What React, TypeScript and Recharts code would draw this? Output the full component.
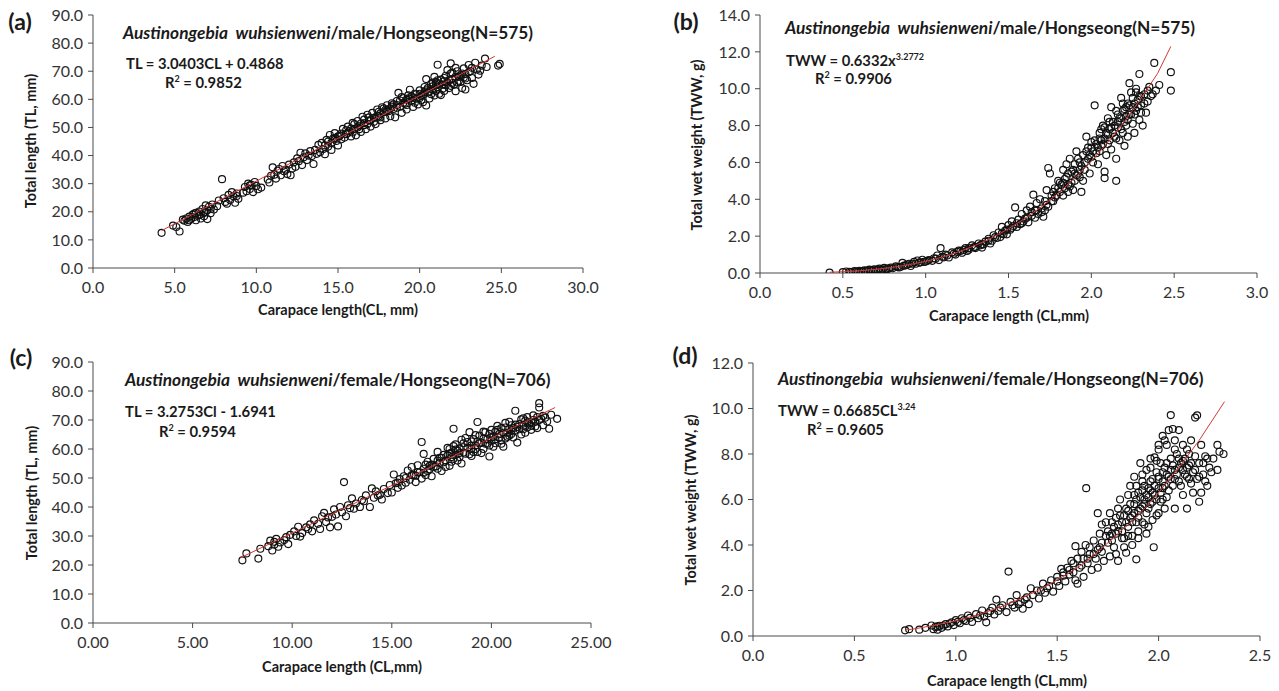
import React from 'react';
import { ScatterChart, Scatter, XAxis, YAxis } from 'recharts';

type Pt = [number, number];

const FONT = 'Lato, "Open Sans", sans-serif';

// ---------- Panel (a): male TL vs CL ----------
const aXTicks = [0, 5, 10, 15, 20, 25, 30];
const aYTicks = [0, 10, 20, 30, 40, 50, 60, 70, 80, 90];
const aPoints: Pt[] = [
  [4.2,12.5],[4.9,15.1],[5.1,14.6],[5.3,13.0],[5.5,17.2],[5.6,16.8],[5.7,17.6],[5.8,16.4],[5.9,18.3],[6.0,17.5],
  [6.1,19.0],[6.2,18.1],[6.3,17.0],[6.3,19.6],[6.4,18.6],[6.5,20.1],[6.6,19.2],[6.6,17.6],[6.7,21.0],[6.8,19.8],
  [6.8,18.4],[6.9,22.3],[7.0,20.5],[7.0,17.4],[7.1,21.8],[7.2,19.5],[7.3,22.6],[7.4,20.8],[7.6,22.0],[7.7,24.0],
  [7.9,31.6],[8.0,24.8],[8.1,23.5],[8.2,22.9],[8.3,26.0],[8.4,24.2],[8.5,27.0],[8.6,25.5],[8.7,23.2],[8.8,26.5],
  [8.9,24.6],[9.2,26.8],[9.3,28.8],[9.4,27.3],[9.5,30.0],[9.6,28.1],[9.7,29.6],[9.8,27.0],[9.9,30.6],[10.0,29.2],
  [10.1,28.0],[10.3,28.6],[10.7,31.5],[10.8,30.4],[10.9,32.8],[11.0,35.8],[11.1,33.2],[11.2,31.8],[11.3,34.6],[11.5,33.0],
  [11.6,36.3],[11.8,35.0],[11.9,33.4],[12.0,36.8],[12.1,33.0],[12.3,37.6],[12.4,36.0],[12.5,39.0],[12.6,38.0],[12.7,41.0],
  [12.8,36.6],[12.9,39.4],[13.0,40.8],[13.1,38.4],[13.3,41.6],[13.4,39.8],[13.5,37.0],[13.6,42.0],[13.8,43.8],[13.9,41.2],
  [14.0,44.5],[14.1,42.3],[14.2,40.5],[14.3,45.6],[14.4,43.2],[14.5,47.3],[14.6,44.6],[14.6,42.0],[14.7,46.0],[14.8,48.0],
  [14.9,45.2],[15.0,43.6],[15.1,47.0],[15.2,45.8],[15.3,49.5],[15.5,47.6],[15.6,50.3],[15.7,48.7],[15.8,46.8],[15.9,51.6],
  [16.0,49.5],[16.1,47.2],[16.2,52.3],[16.3,50.6],[16.4,48.4],[16.5,53.8],[16.6,51.5],[16.7,49.4],[16.8,54.5],[16.9,52.4],
  [17.0,50.3],[17.1,55.2],[17.2,53.4],[17.3,51.2],[17.4,56.4],[17.5,54.0],[17.6,52.6],[17.7,57.2],[17.8,55.4],[17.9,53.2],
  [18.0,57.9],[18.1,55.8],[18.2,54.0],[18.3,58.6],[18.4,56.6],[18.5,53.6],[18.6,59.4],[18.7,62.3],[18.8,57.4],[18.9,55.2],
  [19.0,60.4],[19.1,58.4],[19.2,56.4],[19.3,61.4],[19.4,63.4],[19.5,59.4],[19.6,57.3],[19.7,62.0],[19.8,60.2],[19.9,58.2],
  [20.0,63.2],[20.1,61.2],[20.2,59.0],[20.3,64.4],[20.4,57.8],[20.4,67.2],[20.5,62.4],[20.6,60.3],[20.7,65.4],[20.8,63.5],
  [20.9,61.4],[21.0,66.2],[21.1,72.3],[21.1,64.2],[21.2,62.0],[21.3,67.0],[21.4,65.2],[21.5,63.0],[21.6,68.4],[21.7,66.0],
  [21.8,64.0],[21.9,72.8],[21.9,69.2],[22.0,67.2],[22.1,65.2],[22.2,62.9],[22.3,70.0],[22.4,68.0],[22.5,66.2],[22.6,64.0],
  [22.7,71.0],[22.8,69.0],[22.9,66.8],[23.0,72.2],[23.1,70.0],[23.2,67.6],[23.4,73.0],[23.5,70.6],[23.6,68.8],[23.8,72.0],
  [24.0,74.5],[24.1,71.5],[24.8,72.0],[24.9,72.6],
  [19.5,61.0],[20.0,60.5],[20.5,64.0],[21.0,63.0],[21.5,66.5],[22.0,69.5],[22.5,68.5],[20.8,66.0],[21.3,61.5],[19.2,59.9],
  [18.6,57.0],[17.6,55.0],[16.6,50.8],[15.4,46.4],[22.8,63.5],[23.3,65.5],[23.7,70.2],[22.2,71.2],[21.7,70.4],[20.9,68.0],
  [14.2,43.6],[14.4,45.0],[14.8,46.2],[15.0,46.8],[15.2,47.8],[15.6,48.0],[15.8,49.6],[16.0,51.2],[16.2,50.0],[16.4,51.4],
  [16.6,52.8],[16.8,51.2],[17.0,52.6],[17.2,52.0],[17.4,54.2],[17.6,53.6],[17.8,56.8],[18.0,56.0],[18.2,56.8],[18.4,58.2],
  [18.6,58.0],[18.8,59.6],[19.0,58.8],[19.2,58.0],[19.4,60.2],[19.6,60.6],[19.8,61.8],[20.0,62.0],[20.2,61.6],[20.4,63.2],
  [20.6,62.8],[20.8,64.6],[21.0,65.0],[21.2,65.6],[21.4,63.8],[21.6,65.0],[21.8,66.8],[22.0,65.8],[22.2,68.0],[22.4,66.6],
  [22.6,69.2],[22.8,67.4],[23.0,69.6],[23.2,71.2],[20.1,59.8],[20.3,62.6],[20.7,61.8],[21.1,66.8],[21.5,67.6],[21.9,64.8],
  [22.3,66.0],[22.7,67.8],[19.3,60.4],[19.7,58.8],[18.9,60.8],[18.3,57.4],[17.9,56.2],[17.5,55.6],[16.9,53.6],[16.3,49.4],
  [15.9,48.2],[15.5,49.0],[13.7,40.6],[13.2,40.0],[12.2,35.4],[11.4,35.2],[11.7,34.4],[6.5,18.8],[6.2,19.4],[7.2,21.0],
  [5.9,17.0],[6.9,20.0],[9.6,29.4],[8.8,25.6],
];
const aTrend: Pt[] = [[4.2,13.3],[24.6,75.3]];

// ---------- Panel (b): male TWW vs CL ----------
const bXTicks = [0, 0.5, 1.0, 1.5, 2.0, 2.5, 3.0];
const bYTicks = [0, 2, 4, 6, 8, 10, 12, 14];
const bPoints: Pt[] = [
  [0.42,0.02],[0.5,0.05],[0.52,0.08],[0.55,0.04],[0.57,0.1],[0.59,0.06],[0.6,0.12],[0.62,0.08],[0.63,0.15],[0.65,0.1],
  [0.66,0.18],[0.68,0.13],[0.69,0.2],[0.7,0.16],[0.72,0.24],[0.73,0.14],[0.75,0.28],[0.77,0.22],[0.79,0.3],[0.8,0.26],
  [0.82,0.36],[0.84,0.3],[0.86,0.55],[0.87,0.4],[0.89,0.46],[0.91,0.38],[0.93,0.6],[0.94,0.5],[0.95,0.68],[0.96,0.56],
  [0.98,0.72],[0.99,0.6],[1.02,0.7],[1.05,0.8],[1.07,0.95],[1.08,0.7],[1.09,1.35],[1.1,0.88],[1.12,1.0],[1.14,0.84],
  [1.16,1.12],[1.18,1.0],[1.2,1.22],[1.22,1.1],[1.24,1.35],[1.26,1.26],[1.28,1.5],[1.3,1.42],[1.32,1.6],[1.34,1.38],
  [1.36,1.7],[1.38,1.86],[1.4,1.75],[1.41,2.05],[1.43,1.9],[1.44,2.2],[1.45,1.95],[1.46,2.5],[1.48,2.3],[1.49,2.1],
  [1.5,2.6],[1.51,2.35],[1.52,2.8],[1.54,3.56],[1.55,2.5],[1.56,2.9],[1.57,2.65],[1.58,3.2],[1.6,2.95],[1.61,3.4],
  [1.62,2.75],[1.63,3.6],[1.64,3.1],[1.65,4.25],[1.66,3.4],[1.67,3.8],[1.68,3.2],[1.69,4.0],[1.7,3.5],[1.71,3.05],
  [1.72,3.9],[1.73,4.5],[1.74,5.7],[1.75,5.4],[1.74,3.6],[1.76,4.2],[1.77,3.9],[1.78,4.6],[1.79,4.2],[1.8,5.0],
  [1.81,4.4],[1.82,4.8],[1.83,5.6],[1.84,4.6],[1.85,5.2],[1.86,4.8],[1.87,6.2],[1.88,5.5],[1.89,4.5],[1.9,5.9],
  [1.9,5.0],[1.91,6.6],[1.92,5.4],[1.93,6.0],[1.94,4.4],[1.95,6.4],[1.96,5.6],[1.97,7.4],[1.98,6.2],[1.99,5.4],
  [2.0,6.8],[2.01,6.0],[2.02,9.1],[2.02,7.2],[2.03,6.5],[2.04,5.9],[2.05,7.6],[2.06,6.9],[2.07,8.0],[2.08,5.5],
  [2.08,5.15],[2.08,7.3],[2.09,6.4],[2.1,8.4],[2.1,7.0],[2.11,7.8],[2.12,9.0],[2.12,6.7],[2.13,8.2],[2.14,7.4],
  [2.15,5.0],[2.15,6.2],[2.15,8.8],[2.16,7.9],[2.17,7.2],[2.18,9.5],[2.18,8.4],[2.19,7.6],[2.2,8.9],[2.2,6.9],
  [2.21,8.0],[2.22,9.2],[2.22,7.4],[2.23,10.3],[2.23,8.6],[2.24,9.8],[2.25,8.1],[2.25,9.0],[2.26,7.6],[2.27,10.0],
  [2.27,8.8],[2.28,9.4],[2.29,10.8],[2.29,8.3],[2.3,9.1],[2.31,8.0],[2.32,9.7],[2.33,8.7],[2.34,9.3],[2.35,10.1],
  [2.37,9.7],[2.38,11.4],[2.39,9.9],[2.41,10.2],[2.48,10.9],[2.48,9.9],
  [1.25,1.2],[1.35,1.55],[1.39,1.6],[1.47,2.1],[1.53,2.55],[1.59,2.8],[1.66,3.0],[1.72,3.4],[1.77,4.4],[1.83,4.2],
  [1.88,4.9],[1.93,5.6],[2.0,6.3],[2.05,6.6],[2.11,7.2],[2.16,8.2],[2.21,8.5],[2.26,9.2],[2.3,9.6],[2.06,7.8],
  [1.95,5.0],[1.85,5.9],[0.64,0.12],[0.71,0.18],[0.76,0.2],[0.83,0.32],[0.9,0.5],[0.97,0.58],[1.0,0.62],[1.04,0.66],
  [1.13,0.95],[1.19,1.15],[1.23,1.25],[1.29,1.4],[1.33,1.5],
  [1.78,4.1],[1.81,4.9],[1.84,5.1],[1.86,5.4],[1.87,4.7],[1.89,5.6],[1.91,5.3],[1.92,6.2],[1.94,5.8],[1.96,6.0],
  [1.97,6.6],[1.99,6.4],[2.01,6.6],[2.03,7.0],[2.04,6.8],[2.06,7.2],[2.07,7.0],[2.09,7.6],[2.1,7.5],[2.12,7.9],
  [2.13,7.6],[2.14,8.0],[2.15,7.3],[2.17,8.4],[2.18,7.8],[2.19,8.8],[2.2,8.2],[2.21,9.0],[2.22,8.3],[2.23,9.1],
  [2.24,8.6],[2.25,9.5],[2.26,8.6],[2.28,9.0],[2.29,9.6],[2.3,8.7],[2.32,9.2],[2.34,9.9],[2.36,9.6],[2.27,9.8],
  [2.19,9.2],[2.16,8.6],[2.11,8.2],[2.08,7.9],[2.05,7.3],[2.0,7.1],[1.98,6.8],[1.93,5.2],[1.9,5.4],[1.86,4.4],
  [1.83,4.9],[1.8,4.6],[1.76,3.9],[1.73,3.7],[1.7,3.3],[1.67,3.4],[1.64,3.3],[1.61,3.0],[1.58,2.7],[1.55,2.7],
  [1.52,2.45],[1.49,2.35],[1.46,2.15],[1.42,1.95],[1.38,1.75],[1.34,1.55],[1.3,1.35],[1.26,1.35],[1.21,1.2],[1.17,1.05],
  [1.11,0.85],[1.06,0.78],[1.01,0.66],[0.92,0.5],[0.88,0.42],[0.85,0.34],[0.78,0.26],[0.74,0.2],[0.67,0.16],[0.61,0.1],
  [0.58,0.08],[0.54,0.06],
];
const bTrend: Pt[] = [
  [0.42,0.04],[0.5,0.07],[0.6,0.12],[0.7,0.2],[0.8,0.31],[0.9,0.45],[1.0,0.63],[1.1,0.86],[1.2,1.15],[1.3,1.5],
  [1.4,1.91],[1.5,2.4],[1.6,2.96],[1.7,3.6],[1.8,4.33],[1.9,5.15],[2.0,6.07],[2.1,7.1],[2.2,8.22],[2.3,9.47],
  [2.4,10.83],[2.48,12.3],
];

// ---------- Panel (c): female TL vs CL ----------
const cXTicks = [0, 5, 10, 15, 20, 25];
const cYTicks = [0, 10, 20, 30, 40, 50, 60, 70, 80, 90];
const cPoints: Pt[] = [
  [7.5,21.6],[7.7,24.0],[8.3,22.2],[8.4,25.6],[8.8,26.5],[8.9,28.4],[9.0,25.0],[9.1,27.0],[9.2,29.0],[9.3,26.3],
  [9.4,27.8],[9.6,28.6],[9.8,27.2],[9.9,30.4],[10.1,31.6],[10.2,30.0],[10.3,33.2],[10.4,29.8],[10.5,31.0],[10.7,33.0],
  [10.9,34.0],[11.0,31.6],[11.1,35.4],[11.3,34.2],[11.4,32.4],[11.5,36.8],[11.6,38.0],[11.7,34.8],[11.9,33.0],[12.0,36.6],
  [12.1,39.2],[12.2,37.4],[12.3,33.3],[12.4,40.0],[12.5,38.2],[12.6,48.6],[12.7,36.8],[12.8,40.6],[13.0,43.0],[13.1,39.4],
  [13.2,41.2],[13.4,40.0],[13.5,42.4],[13.7,44.0],[13.9,40.0],[14.0,46.4],[14.1,43.2],[14.2,45.4],[14.4,44.2],[14.5,42.6],
  [14.6,46.2],[14.8,44.8],[14.9,47.6],[15.0,45.0],[15.1,51.2],[15.2,48.2],[15.3,46.6],[15.4,49.6],[15.5,47.4],[15.6,50.6],
  [15.7,48.4],[15.8,52.6],[15.9,49.4],[16.0,53.8],[16.1,51.0],[16.2,48.6],[16.3,54.4],[16.4,52.0],[16.5,62.4],[16.5,49.8],
  [16.6,58.3],[16.6,53.2],[16.7,51.0],[16.8,55.6],[16.9,53.0],[17.0,50.6],[17.1,56.6],[17.2,54.0],[17.3,59.0],[17.4,55.2],
  [17.5,52.4],[17.6,58.0],[17.7,56.0],[17.8,60.4],[17.9,54.2],[18.0,58.8],[18.1,67.0],[18.1,56.6],[18.2,61.6],[18.3,59.4],
  [18.4,57.2],[18.5,63.2],[18.5,55.0],[18.6,60.6],[18.7,58.4],[18.8,62.4],[18.9,65.8],[19.0,60.0],[19.0,57.6],[19.1,63.4],
  [19.2,61.2],[19.3,69.3],[19.3,59.0],[19.4,64.6],[19.5,62.2],[19.6,60.0],[19.7,65.8],[19.8,63.4],[19.9,61.2],[19.9,57.4],
  [20.0,66.6],[20.1,64.2],[20.2,62.0],[20.3,68.0],[20.4,65.2],[20.5,63.0],[20.6,60.8],[20.7,67.4],[20.8,65.6],[20.9,69.4],
  [21.0,66.4],[21.1,64.0],[21.2,73.2],[21.2,68.4],[21.3,62.2],[21.4,66.8],[21.5,70.2],[21.6,68.0],[21.7,65.6],[21.8,71.0],
  [21.9,68.8],[22.0,66.6],[22.1,71.6],[22.2,69.4],[22.3,67.2],[22.4,75.8],[22.4,74.3],[22.5,70.4],[22.6,68.2],[22.8,69.5],
  [22.9,67.0],[23.0,71.8],[23.3,70.4],
  [17.0,54.6],[17.5,57.0],[18.0,55.6],[18.6,62.0],[19.2,64.8],[19.7,61.8],[20.2,66.0],[20.7,63.6],[21.0,68.2],[21.6,70.6],
  [19.5,58.6],[18.2,58.0],[17.7,53.8],[16.8,52.4],[16.2,50.8],[20.5,67.2],[21.3,67.6],[22.0,69.2],[19.0,62.6],[18.4,60.2],
  [17.9,58.4],[17.3,56.0],[20.0,62.8],[20.9,64.6],[21.8,67.4],[22.7,70.8],
  [16.0,51.0],[16.3,52.0],[16.6,51.8],[16.9,54.2],[17.1,53.8],[17.4,57.0],[17.6,55.4],[17.8,57.8],[18.0,57.2],[18.2,59.8],
  [18.4,58.6],[18.6,58.8],[18.8,60.4],[19.0,61.2],[19.2,60.0],[19.4,62.0],[19.6,63.6],[19.8,61.8],[20.0,64.0],[20.2,63.4],
  [20.4,63.8],[20.6,65.6],[20.8,64.2],[21.0,65.2],[21.2,66.4],[21.4,68.6],[21.6,66.8],[21.8,69.2],[22.0,68.0],[22.2,67.8],
  [22.4,70.0],[22.6,71.4],[18.1,61.0],[18.7,63.8],[19.3,62.6],[19.9,65.2],[20.5,61.8],[21.1,67.2],[21.7,69.8],[17.3,53.2],
  [16.7,54.6],[18.9,58.2],[19.6,66.0],[20.3,66.6],[20.9,67.0],[21.5,65.0],[22.1,70.0],[22.3,71.0],[17.9,60.0],[18.3,56.0],
  [19.1,59.0],[20.1,60.8],[20.7,69.0],[15.7,50.0],[15.3,48.4],[14.3,44.0],[13.6,42.0],[12.9,39.6],[11.8,36.4],[10.8,32.4],
  [9.7,29.6],[9.1,28.0],
];
const cTrend: Pt[] = [[7.4,22.5],[23.2,74.3]];

// ---------- Panel (d): female TWW vs CL ----------
const dXTicks = [0, 0.5, 1.0, 1.5, 2.0, 2.5];
const dYTicks = [0, 2, 4, 6, 8, 10, 12];
const dPoints: Pt[] = [
  [0.75,0.25],[0.77,0.3],[0.82,0.28],[0.85,0.36],[0.88,0.46],[0.89,0.3],[0.9,0.4],[0.91,0.28],[0.92,0.45],[0.93,0.36],
  [0.95,0.52],[0.96,0.42],[0.98,0.6],[0.99,0.48],[1.0,0.7],[1.02,0.56],[1.03,0.78],[1.05,0.66],[1.06,0.9],[1.08,0.62],
  [1.1,0.96],[1.11,0.78],[1.13,1.12],[1.14,0.86],[1.15,0.6],[1.16,1.0],[1.18,1.25],[1.19,0.95],[1.2,1.6],[1.21,1.1],
  [1.23,1.35],[1.25,1.05],[1.26,2.83],[1.27,1.5],[1.29,1.25],[1.3,1.8],[1.31,1.4],[1.33,1.2],[1.34,1.6],[1.36,1.4],
  [1.37,2.1],[1.38,1.8],[1.4,2.0],[1.41,1.65],[1.43,2.3],[1.44,1.9],[1.46,2.2],[1.47,2.45],[1.48,1.95],[1.5,2.6],
  [1.51,2.2],[1.52,2.95],[1.53,2.65],[1.54,2.4],[1.55,3.0],[1.56,2.7],[1.57,3.3],[1.58,2.8],[1.59,2.45],[1.6,3.4],
  [1.6,2.3],[1.61,3.0],[1.62,3.7],[1.63,2.6],[1.64,4.0],[1.643,6.5],[1.65,3.2],[1.66,3.6],[1.67,2.9],[1.68,4.2],
  [1.69,3.4],[1.7,3.0],[1.71,4.5],[1.72,3.7],[1.73,3.3],[1.74,5.0],[1.75,4.1],[1.76,3.5],[1.76,5.4],[1.77,4.5],
  [1.78,3.9],[1.79,5.2],[1.8,4.6],[1.8,3.3],[1.81,6.0],[1.82,5.0],[1.83,4.3],[1.84,3.66],[1.84,5.6],[1.85,4.8],
  [1.86,6.6],[1.86,5.2],[1.87,4.4],[1.88,7.0],[1.88,5.8],[1.89,3.37],[1.89,5.0],[1.9,6.3],[1.9,4.6],[1.91,7.6],
  [1.91,5.6],[1.92,6.8],[1.92,5.0],[1.93,6.0],[1.94,7.3],[1.94,5.4],[1.95,6.5],[1.95,4.8],[1.96,7.8],[1.96,5.8],
  [1.97,6.9],[1.976,3.9],[1.98,7.85],[1.98,6.2],[1.99,5.3],[2.0,8.2],[2.0,8.4],[2.0,7.0],[2.01,5.9],[2.02,8.8],
  [2.02,6.5],[2.03,8.6],[2.03,7.4],[2.04,6.1],[2.05,9.05],[2.05,7.0],[2.06,9.71],[2.06,7.8],[2.07,9.1],[2.07,6.6],
  [2.08,7.3],[2.08,5.6],[2.09,8.0],[2.1,9.05],[2.1,6.8],[2.11,7.6],[2.12,8.4],[2.12,6.2],[2.13,7.1],[2.14,8.2],
  [2.14,5.6],[2.15,7.5],[2.16,8.6],[2.16,6.7],[2.17,7.2],[2.18,9.6],[2.18,7.9],[2.19,9.7],[2.19,6.9],[2.2,5.9],
  [2.2,7.6],[2.21,6.3],[2.21,8.4],[2.22,7.1],[2.23,7.9],[2.24,6.6],[2.25,7.4],[2.27,7.8],[2.29,7.3],[2.29,8.4],
  [2.3,8.1],[2.32,8.0],
  [1.85,5.5],[1.87,5.3],[1.9,5.5],[1.93,5.8],[1.95,6.1],[1.97,6.3],[2.0,6.5],[2.02,6.8],[2.04,7.1],[2.06,7.3],
  [2.08,6.9],[2.1,7.4],[2.12,7.7],[2.14,7.0],[1.8,4.9],[1.82,4.6],[1.78,4.8],[1.76,4.4],[1.72,4.1],[1.7,3.8],
  [1.66,3.9],[1.63,3.4],[1.96,6.8],[1.99,7.2],[2.01,7.6],[2.15,8.0],[2.17,6.3],[1.83,5.3],[1.88,6.2],[1.92,6.4],
  [2.03,5.6],[1.94,4.5],[1.7,5.4],[1.72,4.9],[1.59,3.95],
  [1.75,4.6],[1.77,4.2],[1.79,4.5],[1.81,5.3],[1.82,4.3],[1.84,5.0],[1.85,4.4],[1.86,5.8],[1.87,5.0],[1.88,5.4],
  [1.89,6.0],[1.9,5.2],[1.91,6.1],[1.92,5.7],[1.93,6.6],[1.94,6.2],[1.95,5.6],[1.96,6.4],[1.97,5.9],[1.98,6.6],
  [1.99,6.0],[2.0,6.9],[2.01,6.3],[2.02,7.2],[2.03,6.6],[2.04,7.6],[2.05,6.4],[2.06,6.9],[2.07,7.5],[2.08,8.2],
  [2.09,7.1],[2.1,7.8],[2.11,6.6],[2.12,7.3],[2.13,7.8],[2.14,7.4],[2.15,6.9],[2.16,7.6],[2.18,7.3],[2.2,7.0],
  [2.22,7.6],[2.23,6.8],[2.24,7.8],[2.26,7.2],[2.0,5.4],[2.02,6.0],[1.97,5.1],[1.93,4.9],[1.9,4.3],[1.87,4.0],
  [1.83,3.9],[1.79,3.6],[1.96,7.4],[1.99,7.7],[2.04,8.4],[2.08,8.6],[1.92,7.1],[1.89,6.6],[1.85,6.2],[1.8,5.6],
  [1.77,5.0],[1.74,4.4],[1.71,3.9],[1.68,3.6],[1.65,3.4],[1.62,3.1],[1.58,3.2],[1.56,2.9],[1.53,2.8],[1.5,2.4],
  [1.45,2.1],[1.42,2.0],[1.35,1.7],[1.32,1.5],[1.28,1.35],[1.22,1.25],[1.17,1.1],[1.12,0.9],[1.07,0.8],[1.04,0.7],
  [1.01,0.62],[0.97,0.55],[0.94,0.46],[0.91,0.42],
];
const dTrend: Pt[] = [
  [0.75,0.26],[0.8,0.32],[0.9,0.48],[1.0,0.67],[1.1,0.91],[1.2,1.21],[1.3,1.56],[1.4,1.98],[1.5,2.46],[1.6,3.0],
  [1.7,3.7],[1.8,4.5],[1.9,5.3],[2.0,6.3],[2.1,7.4],[2.2,8.6],[2.325,10.3],
];

const toObjs = (p: Pt[]) => p.map(([x, y]) => ({ x, y }));

const Ring = (props: any) => (
  <circle cx={props.cx} cy={props.cy} r={3.5} fill="none" stroke="#111" strokeWidth={1.15} />
);
const NoDot = () => <g />;

interface PanelProps {
  left: number; top: number; width: number; height: number;
  margin: { top: number; right: number; left: number; bottom: number };
  yWidth: number; xHeight: number;
  xTicks: number[]; yTicks: number[]; xDec: number; yDec: number;
  points: Pt[]; trend: Pt[];
}

function Panel(p: PanelProps) {
  const axisStroke = '#4a4a4a';
  const tick = { fill: '#333', fontSize: 16, fontFamily: FONT };
  return (
    <div style={{ position: 'absolute', left: p.left, top: p.top }}>
      <ScatterChart width={p.width} height={p.height} margin={p.margin}>
        <XAxis
          type="number" dataKey="x"
          domain={[p.xTicks[0], p.xTicks[p.xTicks.length - 1]]}
          ticks={p.xTicks} interval={0} allowDataOverflow
          tickFormatter={(v: number) => v.toFixed(p.xDec)}
          height={p.xHeight} tickSize={5} tickMargin={9}
          axisLine={{ stroke: axisStroke }} tickLine={{ stroke: axisStroke }} tick={tick}
        />
        <YAxis
          type="number" dataKey="y"
          domain={[p.yTicks[0], p.yTicks[p.yTicks.length - 1]]}
          ticks={p.yTicks} interval={0} allowDataOverflow
          tickFormatter={(v: number) => v.toFixed(p.yDec)}
          width={p.yWidth} tickSize={5} tickMargin={5}
          axisLine={{ stroke: axisStroke }} tickLine={{ stroke: axisStroke }} tick={tick}
        />
        <Scatter data={toObjs(p.points)} shape={Ring} isAnimationActive={false} />
        <Scatter
          data={toObjs(p.trend)} shape={NoDot}
          line={{ stroke: '#d23a32', strokeWidth: 1 }} lineType="joint"
          isAnimationActive={false}
        />
      </ScatterChart>
    </div>
  );
}

const txt = (x: number, y: number, extra: React.CSSProperties = {}): React.CSSProperties => ({
  position: 'absolute', left: x, top: y, whiteSpace: 'nowrap', fontFamily: FONT,
  color: '#1a1a1a', lineHeight: 1, transform: 'translateY(-50%)', ...extra,
});

const PanelLabel = ({ x, y, s }: { x: number; y: number; s: string }) => (
  <div style={txt(x, y, { fontSize: 23, fontWeight: 700, transform: 'translate(-50%,-50%)' })}>{s}</div>
);
const Title = ({ x, y, rest }: { x: number; y: number; rest: string }) => (
  <div style={txt(x, y, { fontSize: 17.3, fontWeight: 700 })}>
    <i>Austinongebia&nbsp; wuhsienweni</i>{rest}
  </div>
);
const XTitle = ({ x, y, s }: { x: number; y: number; s: string }) => (
  <div style={txt(x, y, { fontSize: 14.5, fontWeight: 700, transform: 'translate(-50%,-50%)' })}>{s}</div>
);
const YTitle = ({ x, y, s }: { x: number; y: number; s: string }) => (
  <div style={txt(x, y, { fontSize: 14.5, fontWeight: 700, transform: 'translate(-50%,-50%) rotate(-90deg)' })}>{s}</div>
);
const Eq = ({ x, y, children }: { x: number; y: number; children: React.ReactNode }) => (
  <div style={txt(x, y, { fontSize: 14.8, fontWeight: 700 })}>{children}</div>
);
const sup: React.CSSProperties = { fontSize: 9, verticalAlign: 'super', lineHeight: 0 };

export default function App() {
  return (
    <div style={{ position: 'absolute', left: 0, top: 0, width: 1279, height: 691, background: '#fff', overflow: 'hidden' }}>
      <Panel left={0} top={0} width={640} height={330} margin={{ top: 15, right: 57, left: 0, bottom: 0 }}
        yWidth={93} xHeight={62} xTicks={aXTicks} yTicks={aYTicks} xDec={1} yDec={1} points={aPoints} trend={aTrend} />
      <Panel left={640} top={0} width={639} height={330} margin={{ top: 15, right: 22, left: 0, bottom: 0 }}
        yWidth={120} xHeight={57} xTicks={bXTicks} yTicks={bYTicks} xDec={1} yDec={1} points={bPoints} trend={bTrend} />
      <Panel left={0} top={330} width={640} height={361} margin={{ top: 32, right: 49, left: 0, bottom: 0 }}
        yWidth={93} xHeight={68} xTicks={cXTicks} yTicks={cYTicks} xDec={2} yDec={1} points={cPoints} trend={cTrend} />
      <Panel left={640} top={330} width={639} height={361} margin={{ top: 33, right: 19, left: 0, bottom: 0 }}
        yWidth={113} xHeight={55} xTicks={dXTicks} yTicks={dYTicks} xDec={1} yDec={1} points={dPoints} trend={dTrend} />

      <PanelLabel x={20} y={21} s="(a)" />
      <PanelLabel x={686} y={21} s="(b)" />
      <PanelLabel x={21} y={357} s="(c)" />
      <PanelLabel x={685} y={355} s="(d)" />

      <Title x={123} y={33} rest="/male/Hongseong(N=575)" />
      <Title x={785} y={28} rest="/male/Hongseong(N=575)" />
      <Title x={125} y={380} rest="/female/Hongseong(N=706)" />
      <Title x={778} y={379} rest="/female/Hongseong(N=706)" />

      <Eq x={126} y={63}>TL = 3.0403CL + 0.4868</Eq>
      <Eq x={165} y={82}>R<span style={sup}>2</span> = 0.9852</Eq>
      <Eq x={786} y={60}>TWW = 0.6332x<span style={sup}>3.2772</span></Eq>
      <Eq x={815} y={78}>R<span style={sup}>2</span> = 0.9906</Eq>
      <Eq x={125} y={411}>TL = 3.2753Cl - 1.6941</Eq>
      <Eq x={159} y={431}>R<span style={sup}>2</span> = 0.9594</Eq>
      <Eq x={778} y={410}>TWW = 0.6685CL<span style={sup}>3.24</span></Eq>
      <Eq x={807} y={429}>R<span style={sup}>2</span> = 0.9605</Eq>

      <XTitle x={338} y={310} s="Carapace length(CL, mm)" />
      <XTitle x={1009} y={316} s="Carapace length (CL,mm)" />
      <XTitle x={342} y={667} s="Carapace length (CL,mm)" />
      <XTitle x={1007} y={681} s="Carapace length (CL,mm)" />

      <YTitle x={31} y={141} s="Total length (TL, mm)" />
      <YTitle x={697} y={145} s="Total wet weight (TWW, g)" />
      <YTitle x={32} y={493} s="Total length (TL, mm)" />
      <YTitle x={691} y={500} s="Total wet weight (TWW, g)" />
    </div>
  );
}
